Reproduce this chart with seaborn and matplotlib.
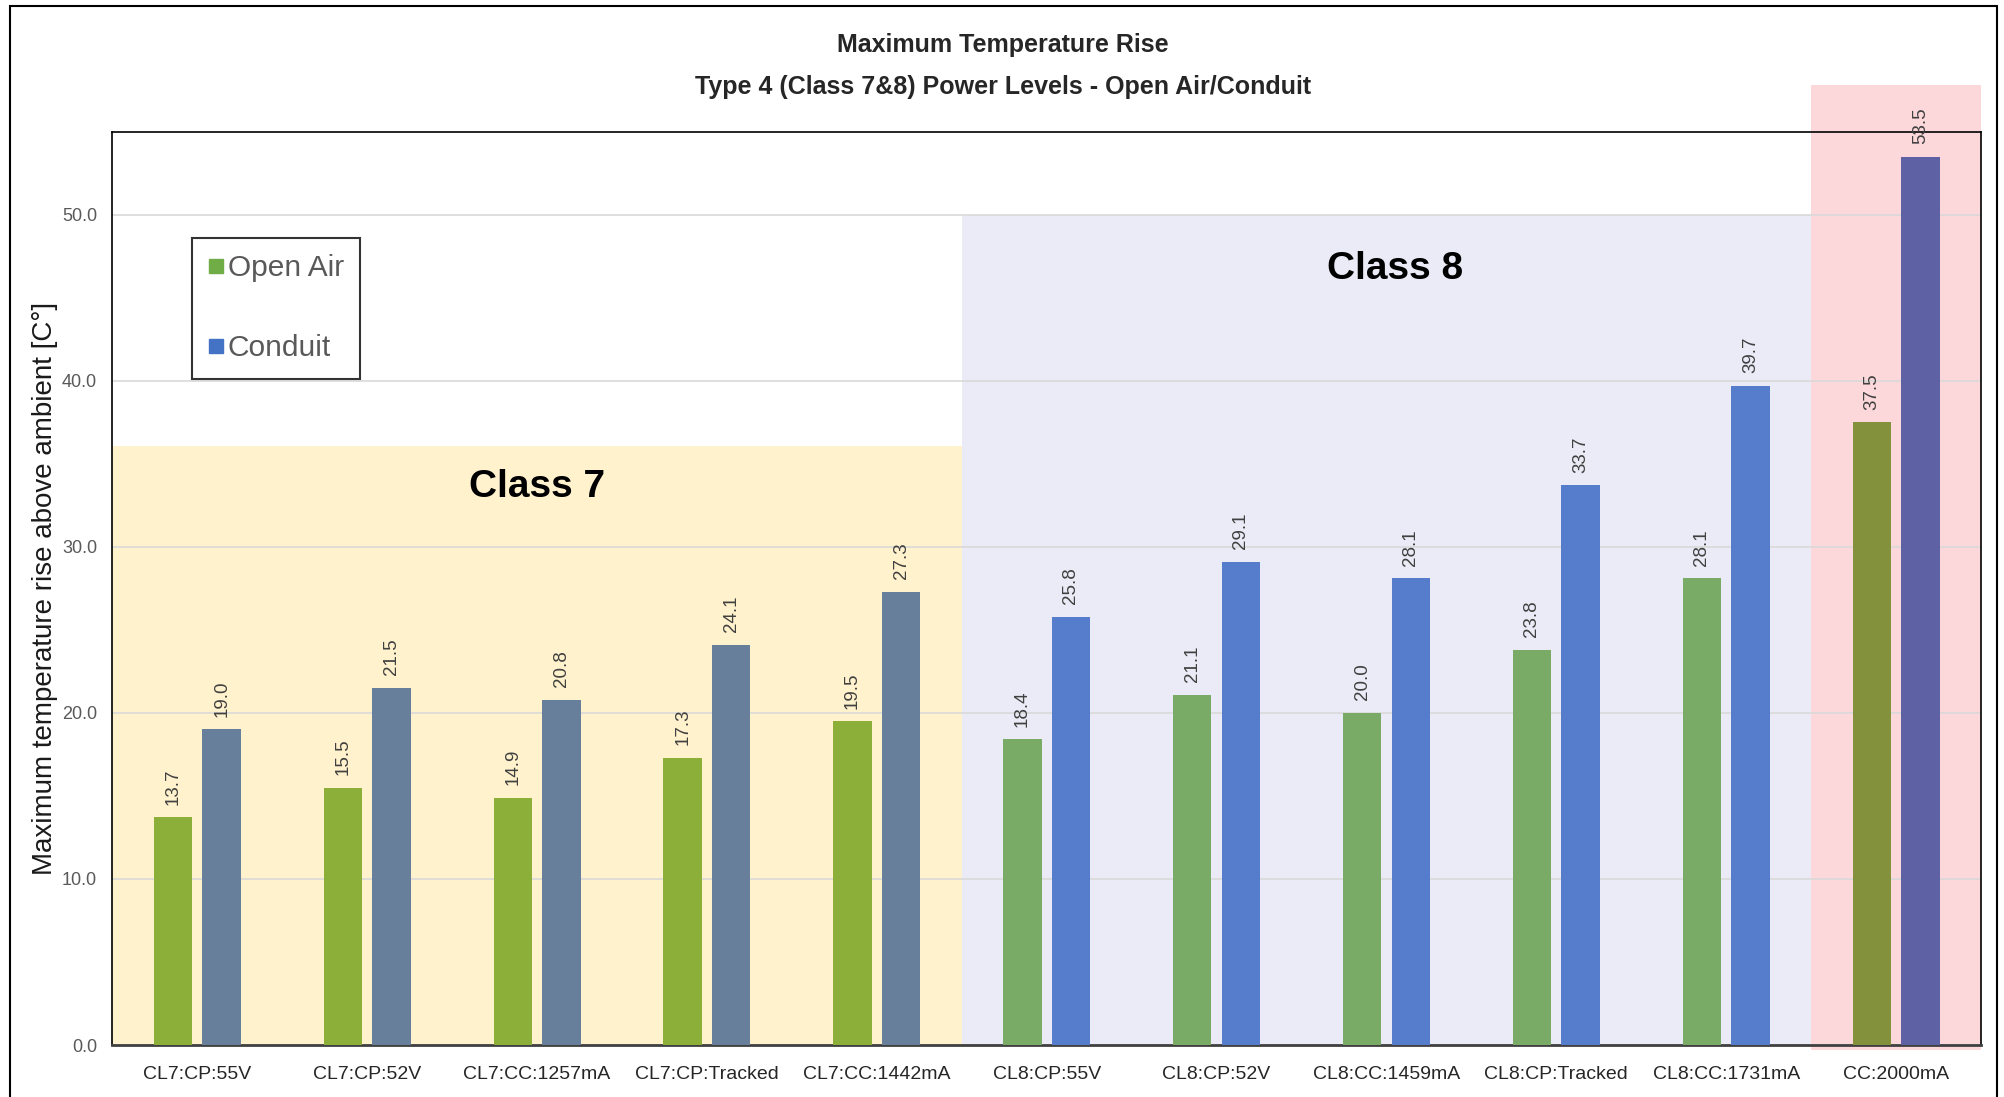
import pandas as pd
import numpy as np
import matplotlib.pyplot as plt
import seaborn as sns
from matplotlib.patches import Rectangle
from matplotlib.lines import Line2D

# chart data
settings = ['CL7:CP:55V', 'CL7:CP:52V', 'CL7:CC:1257mA', 'CL7:CP:Tracked', 'CL7:CC:1442mA',
            'CL8:CP:55V', 'CL8:CP:52V', 'CL8:CC:1459mA', 'CL8:CP:Tracked', 'CL8:CC:1731mA',
            'CC:2000mA']
open_air = [13.7, 15.5, 14.9, 17.3, 19.5, 18.4, 21.1, 20.0, 23.8, 28.1, 37.5]
conduit = [19.0, 21.5, 20.8, 24.1, 27.3, 25.8, 29.1, 28.1, 33.7, 39.7, 53.5]
series = ['Open Air', 'Conduit']

# per-group bar colours (class 7 / class 8 / 2000mA)
open_colors = ['#8CAF39'] * 5 + ['#7AAB66'] * 5 + ['#84913C']
conduit_colors = ['#687F9B'] * 5 + ['#567DCB'] * 5 + ['#5E62A4']
legend_colors = ['#70AD47', '#4472C4']

# long format for seaborn
df = pd.DataFrame({
    'Setting': settings * 2,
    'Rise': open_air + conduit,
    'Cooling': [series[0]] * len(settings) + [series[1]] * len(settings),
})

sns.set_style('white')
plt.rcParams['font.family'] = ['Liberation Sans', 'DejaVu Sans']

fig = plt.figure(figsize=(20.04, 10.97), dpi=100)
ax = fig.add_axes([0.0561, 0.0474, 0.9324, 0.8326])

sns.barplot(data=df, x='Setting', y='Rise', hue='Cooling', order=settings,
            palette=legend_colors, width=0.572, gap=0.21, ax=ax, legend=False,
            linewidth=0, zorder=3)

# recolor bars per group
for bar, c in zip(ax.containers[0], open_colors):
    bar.set_facecolor(c)
    bar.set_edgecolor('none')
for bar, c in zip(ax.containers[1], conduit_colors):
    bar.set_facecolor(c)
    bar.set_edgecolor('none')

for cont in ax.containers:
    ax.bar_label(cont, fmt='%.1f', rotation=90, padding=9, fontsize=13.5, color='#404040')

ax.set_xlim(-0.5, 10.5)
ax.set_ylim(0, 55)
ax.set_yticks(np.arange(0, 51, 10))
ax.set_yticklabels([f'{v:.1f}' for v in np.arange(0, 51, 10)])
ax.yaxis.grid(True, color='#D9D9D9', lw=1.2)
ax.set_axisbelow(True)

# shaded class regions
ax.add_patch(Rectangle((-0.5, 0), 5, 36.1, facecolor='#FFF2CC', edgecolor='none', zorder=0.2))
ax.add_patch(Rectangle((4.5, 0), 5, 50, facecolor='#EBEBF7', edgecolor='none', zorder=0.2))
ax.add_patch(Rectangle((9.5, -0.3), 1, 58.1, facecolor='#FCD8DA', edgecolor='none',
                       zorder=0.2, clip_on=False))

ax.text(2.0, 33.6, 'Class 7', ha='center', va='center', fontsize=28, fontweight='bold', color='black')
ax.text(7.05, 46.7, 'Class 8', ha='center', va='center', fontsize=28, fontweight='bold', color='black')

ax.set_xlabel('')
ax.set_ylabel('Maximum temperature rise above ambient [C°]', fontsize=20, color='#1a1a1a', labelpad=3)
ax.tick_params(axis='x', length=0, pad=15, labelsize=14, labelcolor='#262626')
ax.tick_params(axis='y', length=0, pad=11, labelsize=13, labelcolor='#595959')

for side in ['top', 'left', 'right']:
    ax.spines[side].set_color('black')
    ax.spines[side].set_linewidth(1.2)
ax.spines['bottom'].set_color('#404040')
ax.spines['bottom'].set_linewidth(2)

# legend
handles = [Line2D([], [], marker='s', ls='none', markersize=10, color=c) for c in legend_colors]
leg = ax.legend(handles, series, loc='upper left', bbox_to_anchor=(0.0425, 0.884),
                fontsize=21.5, labelcolor='#595959', frameon=True, fancybox=False,
                edgecolor='black', handlelength=0.5, handletextpad=0.15,
                labelspacing=1.75, borderpad=0.55, borderaxespad=0)
leg.get_frame().set_linewidth(1.5)

# title lines
fig.text(0.5005, 0.959, 'Maximum Temperature Rise', ha='center', va='center',
         fontsize=18, fontweight='bold')
fig.text(0.5005, 0.921, 'Type 4 (Class 7&8) Power Levels - Open Air/Conduit', ha='center', va='center',
         fontsize=18, fontweight='bold')

# outer chart border
fig.patches.append(Rectangle((0.005, -0.01), 0.9915, 1.0045, transform=fig.transFigure,
                             fill=False, edgecolor='black', lw=1.5))

plt.savefig('out.png', dpi=100)
plt.close()
